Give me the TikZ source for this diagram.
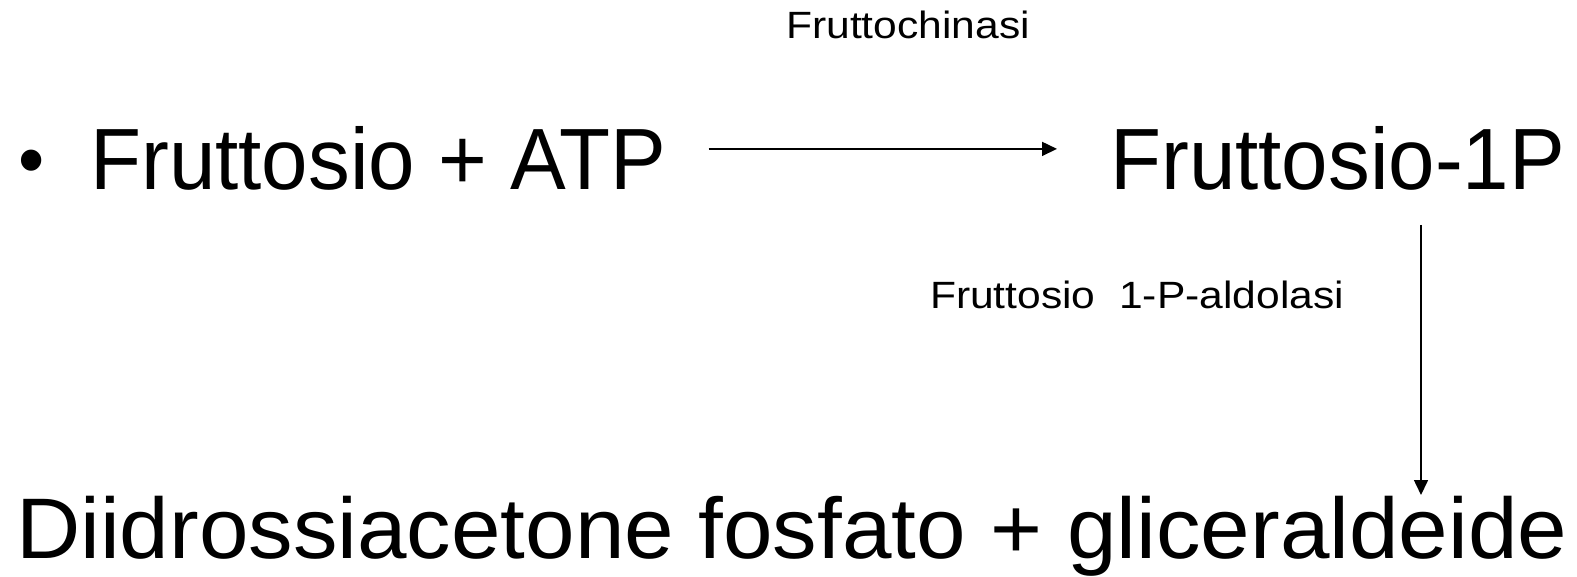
\documentclass[tikz,border=0pt]{standalone}
\usepackage{fontspec}
\setmainfont{Liberation Sans}
\newfontfamily\topfont[FakeStretch=0.96]{Liberation Sans}
\newfontfamily\botfont[FakeStretch=1.035]{Liberation Sans}
\newfontfamily\enzfont[FakeStretch=1.12]{Liberation Sans}
\usetikzlibrary{arrows.meta}

\begin{document}
\begin{tikzpicture}[x=1pt,y=1pt,
  % reaction arrows
  rxn/.style={line width=1.6pt,-{Triangle[length=15pt,width=14pt]}},
  species/.style={inner sep=0pt,font=\topfont\fontsize{87}{87}\selectfont},
  enzyme/.style={inner sep=0pt,font=\enzfont\fontsize{38}{38}\selectfont}]
\useasboundingbox (0,0) rectangle (1577,576);
% first step
\node[species,anchor=base,font=\topfont\fontsize{78}{78}\selectfont] (dot) at (32,389) {•};
\node[species,anchor=base west] (fru) at (90,386) {Fruttosio + ATP};
\node[species,anchor=base west] (f1p) at (1110,386) {Fruttosio-1P};
\node[enzyme,anchor=base] (kin) at (908,537) {Fruttochinasi};
\draw[rxn] ([xshift=42pt,yshift=10pt]fru.east) -- ([xshift=-53pt,yshift=10pt]f1p.west);
% second step
\node[enzyme,anchor=base] (ald) at (1137,267) {Fruttosio\ \ 1-P-aldolasi};
\node[species,anchor=base west,font=\botfont\fontsize{86}{86}\selectfont] (tri) at (16,18)
  {Diidrossiacetone fosfato + gliceraldeide};
\coordinate (k1) at (1421,351);
\coordinate (k2) at (1421,81);
\draw[rxn] (k1) -- (k2);
\end{tikzpicture}
\end{document}
